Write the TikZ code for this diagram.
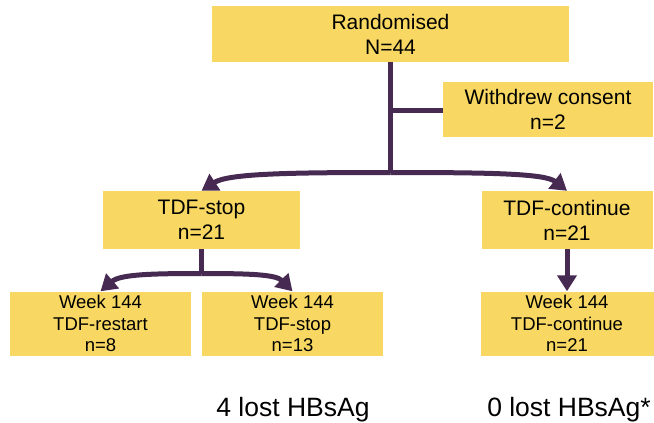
\documentclass[tikz,border=0pt]{standalone}
\usepackage{fontspec}
\setmainfont{Liberation Sans}
\usetikzlibrary{arrows.meta}
\definecolor{boxfill}{HTML}{F8D862}
\definecolor{linec}{HTML}{472A52}
\tikzset{
  topbox/.style={fill=boxfill, draw=none, inner sep=0pt, align=center,
    font=\fontsize{21}{25}\selectfont},
  lowbox/.style={fill=boxfill, draw=none, inner sep=0pt, align=center,
    font=\fontsize{18.5}{21.5}\selectfont},
  conn/.style={draw=linec, line width=5pt},
  arr/.style={conn, -{Triangle[length=16pt,width=19pt]}},
  outcome/.style={anchor=base, inner sep=0pt, font=\fontsize{26.5}{31}\selectfont}
}
\begin{document}
\begin{tikzpicture}[x=1pt,y=-1pt]
\useasboundingbox (0,0) rectangle (654,423);
\node[topbox, minimum width=357pt, minimum height=56pt] (rand) at (390.5,34) {Randomised\\N=44};
\node[topbox, minimum width=210pt, minimum height=55pt] (wd) at (548,109.5) {Withdrew consent\\n=2};
\node[topbox, minimum width=197pt, minimum height=58pt] (stop) at (201.5,220) {TDF-stop\\n=21};
\node[topbox, minimum width=171pt, minimum height=58pt] (cont) at (567,220) {TDF-continue\\n=21};
\node[lowbox, minimum width=181pt, minimum height=64pt] (w1) at (100.5,323.5) {Week 144\\TDF-restart\\n=8};
\node[lowbox, minimum width=181pt, minimum height=64pt] (w2) at (292.5,323.5) {Week 144\\TDF-stop\\n=13};
\node[lowbox, minimum width=173pt, minimum height=64pt] (w3) at (567,323.5) {Week 144\\TDF-continue\\n=21};
\coordinate (j1) at (390.5,172.5);
\coordinate (jw) at (390.5,110.5);
\coordinate (j2) at (201.5,273.5);
\draw[conn] (rand.south) -- (j1);
\draw[conn] (jw) -- (wd.west |- jw);
\draw[arr] (j1) .. controls (290,172.5) and (228,173.5) .. (stop.north);
\draw[arr] (j1) .. controls (490,172.5) and (545,173.5) .. (cont.north);
\draw[conn] (stop.south) -- (j2);
\draw[arr] (j2) .. controls (150,273.5) and (120,274.5) .. (w1.north);
\draw[arr] (j2) .. controls (250,273.5) and (276,274.5) .. (w2.north);
\draw[arr] (cont.south) -- (w3.north);
\node[outcome] (o1) at (293,416) {4 lost HBsAg};
\node[outcome] (o2) at (569,416) {0 lost HBsAg*};
\end{tikzpicture}
\end{document}
